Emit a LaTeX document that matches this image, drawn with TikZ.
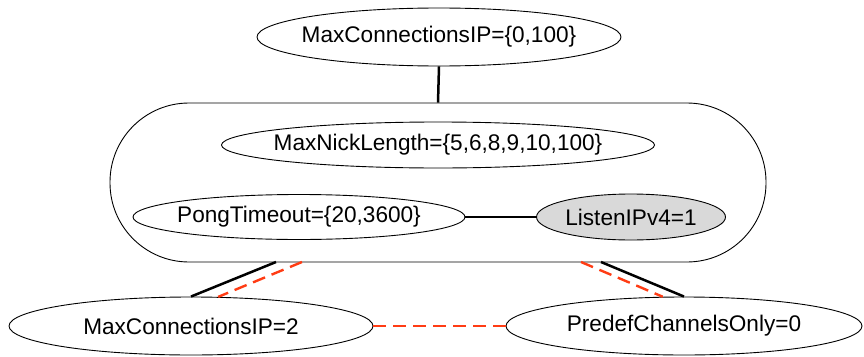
\documentclass[tikz,border=0pt]{standalone}
\usepackage{fontspec}
\setmainfont{Liberation Sans}
\usetikzlibrary{shapes.geometric}
\begin{document}
\begin{tikzpicture}[x=1pt,y=-1pt,
  el/.style={ellipse, draw, line width=0.9pt, inner sep=0pt, font=\fontsize{22.6}{27}\selectfont},
  conn/.style={line width=2.5pt},
  rdash/.style={line width=2.4pt, draw={rgb,255:red,255;green,60;blue,20}, dash pattern=on 13pt off 7pt}]
\useasboundingbox (0,0) rectangle (864,356);
\node[draw, line width=0.9pt, rounded corners=79pt, minimum width=656pt, minimum height=159pt, inner sep=0pt] (grp) at (438,182.5) {};
\node[el, minimum width=364pt, minimum height=58pt] (top) at (439,37) {\makebox[0pt]{MaxConnectionsIP=\{0,100\}}};
\node[el, minimum width=433pt, minimum height=46pt] (nick) at (438,145) {\makebox[0pt]{MaxNickLength=\{5,6,8,9,10,100\}}};
\node[el, minimum width=332pt, minimum height=45pt] (pong) at (299,217) {\makebox[0pt]{PongTimeout=\{20,3600\}}};
\node[el, minimum width=189pt, minimum height=46pt, fill={rgb,255:red,217;green,217;blue,217}] (listen) at (631,217) {\makebox[0pt]{ListenIPv4=1}};
\node[el, minimum width=364pt, minimum height=58pt] (mc2) at (191,326) {\makebox[0pt]{MaxConnectionsIP=2}};
\node[el, minimum width=356pt, minimum height=58pt] (pc) at (684,326) {\makebox[0pt]{PredefChannelsOnly=0}};
\coordinate (g1) at (276,262);
\coordinate (g2) at (302,262);
\coordinate (g3) at (581,262);
\coordinate (g4) at (601,262);
\draw[conn] (top.south) -- (grp.north);
\draw[conn] (pong.east) -- (listen.west);
\draw[conn] (g1) -- (mc2.north);
\draw[conn] (g4) -- (pc.north);
\draw[rdash] (g2) -- (mc2.47);
\draw[rdash] (g3) -- (pc.126);
\draw[rdash] (mc2.east) -- (pc.west);
\end{tikzpicture}
\end{document}
